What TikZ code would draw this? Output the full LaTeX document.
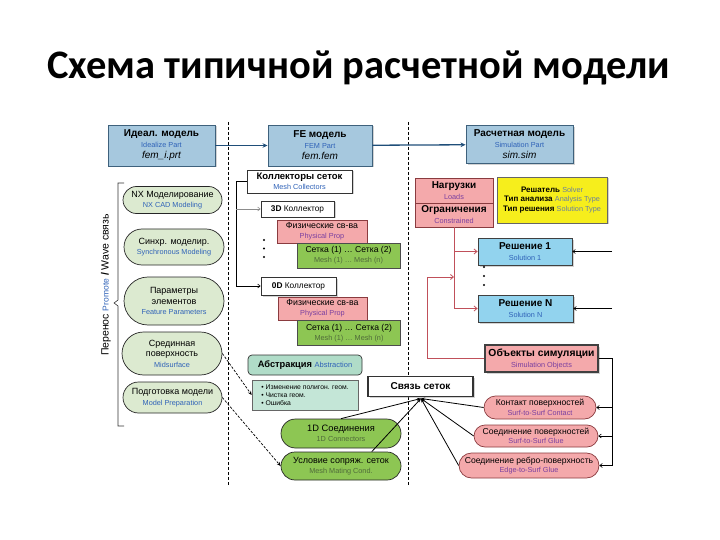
\documentclass[tikz,border=0pt]{standalone}
\usepackage{fontspec}
\setmainfont{Liberation Sans}
\newfontfamily\titlefont{Carlito}
\usetikzlibrary{arrows.meta,shapes.misc,shadows,calc}

\definecolor{topfill}{HTML}{A6C8DE}
\definecolor{topdraw}{HTML}{3E617C}
\definecolor{lgreen}{HTML}{DCEAD0}
\definecolor{mgreen}{HTML}{8DC653}
\definecolor{pinkf}{HTML}{F4A9AB}
\definecolor{pinkd}{HTML}{8A3B3F}
\definecolor{solf}{HTML}{92D3EE}
\definecolor{yel}{HTML}{F6EE1C}
\definecolor{tealA}{HTML}{B0DCC8}
\definecolor{tealB}{HTML}{C4E6D7}
\definecolor{subblue}{HTML}{2F62B8}
\definecolor{subpurp}{HTML}{7A3FA0}
\definecolor{subgreen}{HTML}{4F6A3A}
\definecolor{subgray}{HTML}{6A7FA0}
\definecolor{redc}{HTML}{C0505A}
\definecolor{arrblue}{HTML}{1F4E79}

\newcommand{\hd}[1]{{\bfseries #1}}
\newcommand{\sbb}[1]{{\fontsize{7.3}{8.5}\selectfont\color{subblue}#1}}
\newcommand{\sbp}[1]{{\fontsize{7.3}{8.5}\selectfont\color{subpurp}#1}}
\newcommand{\sbg}[1]{{\fontsize{7.3}{8.5}\selectfont\color{subgreen}#1}}

\begin{document}
\begin{tikzpicture}[x=1pt,y=-1pt,
  sz/.style 2 args={minimum width=#1,minimum height=#2},
  base/.style={inner sep=1pt,align=center},
  shd/.style={drop shadow={shadow xshift=1.5pt,shadow yshift=-1.5pt,opacity=0.35}},
  topbox/.style={base,shd,draw=topdraw,fill=topfill,line width=0.9pt,font=\fontsize{10}{11}\selectfont},
  lpill/.style={base,rounded rectangle,draw=black!85,fill=lgreen,line width=0.7pt,font=\fontsize{9}{10.5}\selectfont},
  wbox/.style={base,shd,draw=black!80,fill=white,line width=0.8pt,font=\fontsize{9.5}{10.5}\selectfont},
  pbox/.style={base,draw=pinkd,fill=pinkf,line width=0.7pt,font=\fontsize{8.8}{10}\selectfont},
  gbox/.style={base,draw=black!70,fill=mgreen,line width=0.7pt,font=\fontsize{8.6}{10}\selectfont},
  solbox/.style={base,shd,draw=black!75,fill=solf,line width=0.8pt,font=\fontsize{10}{11}\selectfont},
  ppill/.style={base,rounded rectangle,draw=pinkd,fill=pinkf,line width=0.7pt,font=\fontsize{8.6}{9.5}\selectfont},
  gpill/.style={base,rounded rectangle,draw=black!85,fill=mgreen,line width=0.7pt,font=\fontsize{9.3}{10.5}\selectfont},
  conn/.style={line width=0.6pt,-{Straight Barb[length=2.5pt,width=4pt]}},
  redline/.style={draw=redc,line width=0.8pt},
  hubarr/.style={line width=0.8pt,-{Stealth[length=4pt,width=3pt]}},
  darr/.style={line width=0.7pt,dash pattern=on 2.5pt off 1.5pt,-{Stealth[length=4pt,width=3.5pt]}}
]
\useasboundingbox (0,0) rectangle (720,540);

% title
\node[font=\titlefont\bfseries\fontsize{40.5}{46}\selectfont] (title) at (359,68) {Схема типичной расчетной модели};

% dashed separators
\draw[line width=0.6pt,dash pattern=on 3pt off 2pt] (228,122) -- (228,486);
\draw[line width=0.6pt,dash pattern=on 3pt off 2pt] (408,122) -- (408,486);

% top row
\node[topbox,sz={107pt}{41pt}] (ideal) at (161.5,145.5) {\hd{Идеал. модель}\\\sbb{Idealize Part}\\{\itshape fem\_i.prt}};
\node[topbox,sz={104pt}{41pt}] (fe) at (320,145.5) {\hd{FE модель}\\\sbb{FEM Part}\\{\itshape fem.fem}};
\node[topbox,sz={107pt}{38pt}] (sim) at (519.5,144.5) {\hd{Расчетная модель}\\\sbb{Simulation Part}\\{\itshape sim.sim}};
\draw[arrblue,line width=1.3pt,-{Stealth[length=5pt,width=4.5pt]}] (ideal) -- (fe);
\draw[arrblue,line width=1.3pt,-{Stealth[length=5pt,width=4.5pt]}] (fe) -- (sim);

% left pills
\node[lpill,sz={101pt}{27pt}] (nx) at (172.5,200) {NX Моделирование\\\sbb{NX CAD Modeling}};
\node[lpill,sz={102pt}{36pt}] (sync) at (174,247) {Синхр. моделир.\\\sbb{Synchronous Modeling}};
\node[lpill,sz={102pt}{48pt}] (par) at (174,301) {Параметры\\элементов\\\sbb{Feature Parameters}};
\node[lpill,sz={102pt}{43pt}] (mid) at (172,353.5) {Срединная\\поверхность\\\sbb{Midsurface}};
\node[lpill,sz={101pt}{31pt}] (prep) at (172.5,397.5) {Подготовка модели\\\sbb{Model Preparation}};

% left bracket and rotated label
\draw[black!80,line width=0.6pt] (124,183) -- (118,183) -- (118,300) -- (114,303) -- (118,306) -- (118,426) -- (124,426);
\node[rotate=90,font=\fontsize{10.5}{12}\selectfont,inner sep=0pt] (promote) at (106,285) {Перенос {\fontsize{8.5}{9}\selectfont\color{subblue}Promote} \hd{/} Wave связь};

% mesh collectors
\node[wbox,sz={105pt}{23pt}] (mc) at (299.5,181.5) {\hd{Коллекторы сеток}\\\sbb{Mesh Collectors}};
\node[wbox,sz={73pt}{16pt},font=\fontsize{8.3}{10}\selectfont] (c3d) at (297.5,209) {\hd{3D} Коллектор};
\node[pbox,sz={90pt}{23pt}] (pp1) at (322,231.5) {Физические св-ва\\\sbp{Physical Prop}};
\node[gbox,sz={103pt}{25pt}] (m1) at (348.5,255.5) {Сетка (1) … Сетка (2)\\\sbg{Mesh (1) … Mesh (n)}};
\node[wbox,sz={75pt}{18pt},font=\fontsize{8.3}{10}\selectfont] (c0d) at (298.5,286) {\hd{0D} Коллектор};
\node[pbox,sz={89pt}{23pt}] (pp2) at (322.5,308.5) {Физические св-ва\\\sbp{Physical Prop}};
\node[gbox,sz={103pt}{25pt}] (m2) at (349,333) {Сетка (1) … Сетка (2)\\\sbg{Mesh (1) … Mesh (n)}};
\foreach \yy in {240,248.5,257} \fill (264,\yy) circle (1.2pt);
\coordinate (busx) at (236,0);
\draw[conn] (mc.west) -- (mc.west -| busx) |- (c0d.west);
\draw[conn,black!45] (c3d.west -| busx) -- (c3d.west);

% right column
\node[pbox,sz={78pt}{25pt},font=\fontsize{10}{11}\selectfont] (loads) at (454,190.5) {\hd{Нагрузки}\\\sbp{Loads}};
\node[pbox,sz={78pt}{24pt},font=\fontsize{10}{11}\selectfont] (constr) at (454,215) {\hd{Ограничения}\\\sbp{Constrained}};
\node[base,shd,draw=black!60,fill=yel,line width=0.8pt,sz={110pt}{46pt},font=\fontsize{8}{9.5}\selectfont] (solver) at (552,200)
  {\hd{Решатель} {\fontsize{7.3}{8}\selectfont\color{subgray}Solver}\\\hd{Тип анализа} {\fontsize{7.3}{8}\selectfont\color{subgray}Analysis Type}\\\hd{Тип решения} {\fontsize{7.3}{8}\selectfont\color{subgray}Solution Type}};
\node[solbox,sz={94pt}{27pt}] (sol1) at (525,251.5) {\hd{Решение 1}\\\sbb{Solution 1}};
\node[solbox,sz={95pt}{27pt}] (solN) at (525.5,308.5) {\hd{Решение N}\\\sbb{Solution N}};
\foreach \yy in {267,276,285} \fill (484,\yy) circle (1.2pt);
\node[pbox,shd,line width=1.1pt,draw=black!75,sz={113pt}{27pt},font=\fontsize{10.3}{11}\selectfont] (simobj) at (541.5,358.5) {\hd{Объекты симуляции}\\\sbp{Simulation Objects}};

% red connectors
\coordinate (lvl) at (0,277);
\coordinate (sk) at (427,277);
\draw[redline,-{Straight Barb[length=3pt,width=5pt]}] (constr.south) |- (solN.west);
\draw[redline,-{Straight Barb[length=3pt,width=5pt]}] (sol1.west -| constr.south) -- (sol1.west);
\draw[redline,-{Straight Barb[length=3pt,width=5pt]}] (simobj.west) -| (sk) -- (constr.south |- lvl);

% right black connectors
\coordinate (rx) at (612,0);
\draw[conn] (sol1.east -| rx) -- (sol1.east);
\draw[conn] (solN.east -| rx) -- (solN.east);

% bottom right pills
\node[ppill,sz={114pt}{23pt}] (contact) at (540,407.5) {Контакт поверхностей\\\sbp{Surf-to-Surf Contact}};
\node[ppill,sz={126pt}{22pt}] (glue) at (536,436) {Соединение поверхностей\\\sbp{Surf-to-Surf Glue}};
\node[ppill,sz={142pt}{25pt}] (edge) at (529,465.5) {Соединение ребро-поверхность\\\sbp{Edge-to-Surf Glue}};
\draw[line width=0.8pt] (simobj.east) -- (simobj.east -| rx) -- (edge.east -| rx);
\draw[conn] (contact.east -| rx) -- (contact.east);
\draw[conn] (glue.east -| rx) -- (glue.east);
\draw[conn] (edge.east -| rx) -- (edge.east);

% mesh connections
\node[wbox,line width=1.1pt,sz={105pt}{20pt},font=\fontsize{10}{11}\selectfont] (ms) at (420.5,386.5) {\hd{Связь сеток}};
\coordinate (hub) at (421,398.5);
\node[base,rounded corners=4pt,draw=black!80,fill=tealA,line width=0.7pt,sz={114pt}{20pt},font=\fontsize{9.3}{10}\selectfont] (abs) at (305,365) {\hd{Абстракция} {\fontsize{7.5}{8}\selectfont\color{subblue}Abstraction}};
\node[draw=black!60,fill=tealB,line width=0.6pt,sz={106pt}{30pt},inner sep=2pt,align=left,font=\fontsize{6.8}{8.3}\selectfont] (absb) at (305,395) {• Изменение полигон. геом.\\• Чистка геом.\\• Ошибка};
\node[gpill,sz={122pt}{29pt}] (c1d) at (341,433.5) {1D Соединения\\\sbg{1D Connectors}};
\node[gpill,sz={122pt}{28pt},font=\fontsize{9}{10.5}\selectfont] (cond) at (341,466) {Условие сопряж. сеток\\\sbg{Mesh Mating Cond.}};

\draw[hubarr] (contact.west) -- (hub);
\draw[hubarr] (glue.west) -- (hub);
\draw[hubarr] (edge.west) -- (hub);
\draw[hubarr] (c1d.north) -- (hub);
\draw[hubarr] (cond.25) -- (hub);

% dashed arrows
\draw[darr] (mid.east) -- (absb.west);
\draw[darr] (prep.east) -- (cond.west);
\end{tikzpicture}
\end{document}
